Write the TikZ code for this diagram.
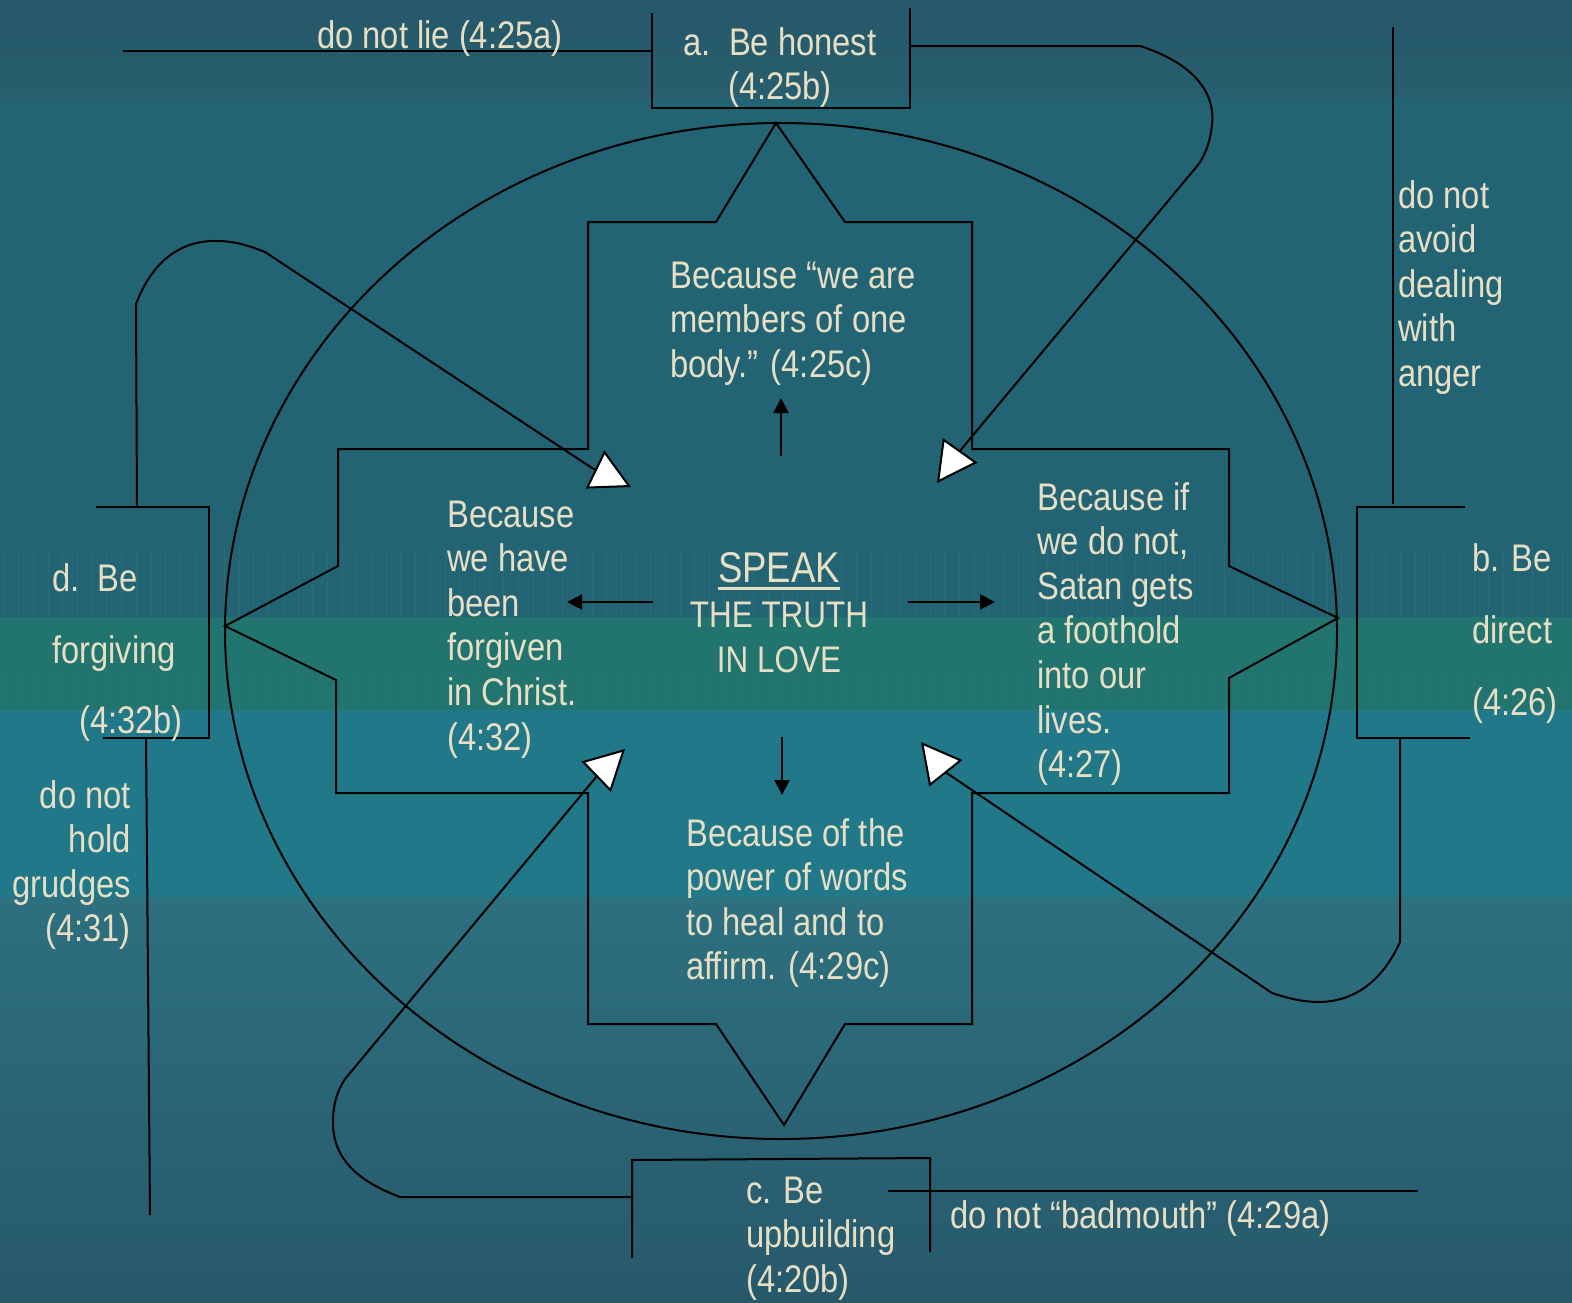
\documentclass[tikz,border=0pt]{standalone}
\usepackage{fontspec}
\setmainfont{Liberation Sans}[FakeStretch=0.85]
\usetikzlibrary{arrows.meta}
\definecolor{txt}{HTML}{E6DFC5}
\definecolor{bgtopA}{HTML}{25586A}
\definecolor{bgtopB}{HTML}{285E6E}
\definecolor{bgmain}{HTML}{236474}
\definecolor{bggreen}{HTML}{22756F}
\definecolor{bgblue}{HTML}{217888}
\definecolor{bgbotA}{HTML}{2D707F}
\definecolor{bgbotB}{HTML}{27596B}
\definecolor{stripecol}{HTML}{2A7A78}
\newcommand\Lblock[1]{\vtop{\halign{##\hfil\cr#1\crcr}}}
\newcommand\Rblock[1]{\vtop{\halign{\hfil##\cr#1\crcr}}}
\newcommand\Cblock[1]{\vtop{\halign{\hfil##\hfil\cr#1\crcr}}}
\begin{document}
\begin{tikzpicture}[x=1pt,y=-1pt,
  ln/.style={draw=black,line width=2pt},
  lbl/.style={text=txt,inner sep=0pt,font=\fontsize{38.5}{44.6}\selectfont},
  ctr/.style={text=txt,inner sep=0pt,font=\fontsize{37}{44.6}\selectfont},
  bigtip/.style={-{Triangle[length=40pt,width=42pt,fill=white]}},
  smalltip/.style={-{Triangle[length=15pt,width=15pt]}},
  stripe/.style={draw=stripecol,line width=1pt,opacity=0.45}]
\useasboundingbox (0,0) rectangle (1572,1302);
% background bands
\shade[top color=bgtopA,bottom color=bgtopB] (0,0) rectangle (1572,98);
\fill[bgmain] (0,98) rectangle (1572,617);
\fill[bggreen] (0,617) rectangle (1572,710);
\fill[bgblue] (0,710) rectangle (1572,897);
\shade[top color=bgbotA,bottom color=bgbotB] (0,897) rectangle (1572,1302);
\foreach \i in {0,...,107}{
  \draw[stripe] (\i*14.7+4,547) -- (\i*14.7+4,617);
  \draw[stripe] (\i*14.7+4,667) -- (\i*14.7+4,710);
}
% circle and star
\draw[ln] (781,631) ellipse [x radius=556pt, y radius=508pt];
\draw[ln] (776,123) -- (716,222) -- (588,222) -- (588,449) -- (338,449) -- (338,566)
  -- (225,626) -- (336,680) -- (336,793) -- (588,793) -- (588,1024) -- (716,1024)
  -- (784,1125) -- (845,1024) -- (972,1024) -- (972,793) -- (1229,793) -- (1229,678)
  -- (1338,618) -- (1229,566) -- (1229,449) -- (972,449) -- (972,222) -- (845,222) -- cycle;
% coordinates
\coordinate (aLeft) at (652,51);
\coordinate (lieEnd) at (123,51);
\coordinate (aRight) at (910,46);
\coordinate (angerTop) at (1393,27);
\coordinate (bTop) at (1393,504);
\coordinate (bBot) at (1400,738);
\coordinate (dTop) at (137,508);
\coordinate (dBot) at (146,738);
\coordinate (grudgeEnd) at (150,1215);
\coordinate (cLeft) at (632,1197);
\coordinate (badStart) at (888,1191);
\coordinate (badEnd) at (1418,1191);
\coordinate (tipTR) at (937,483);
\coordinate (baseTR) at (959,452);
\coordinate (tipTL) at (631,487);
\coordinate (baseTL) at (592,468);
\coordinate (tipBL) at (625,749);
\coordinate (baseBL) at (597,776);
\coordinate (tipBR) at (921,742);
\coordinate (baseBR) at (944.5,771.5);
% bracket boxes
\draw[ln] (652,13) -- (652,108) -- (910,108) -- (910,8);
\draw[ln] (1465,507) -- (1357,507) -- (1357,738) -- (1470,738);
\draw[ln] (96,507) -- (209,507) -- (209,738) -- (103,738);
\draw[ln] (632,1258) -- (632,1160) -- (930,1158) -- (930,1252);
% side lines
\draw[ln] (lieEnd) -- (aLeft);
\draw[ln] (angerTop) -- (bTop);
\draw[ln] (dBot) -- (grudgeEnd);
\draw[ln] (badStart) -- (badEnd);
% connectors with big arrows
\draw[ln,bigtip] (aRight) -- (1140,46) .. controls (1190,62) and (1216,90) .. (1212,125)
  .. controls (1210,143) and (1205,155) .. (1198,165) -- (baseTR) -- (tipTR);
\draw[ln,bigtip] (dTop) -- (136,304) .. controls (152,262) and (180,240) .. (217,241)
  .. controls (235,241) and (250,246) .. (265,252) -- (baseTL) -- (tipTL);
\draw[ln,bigtip] (cLeft) -- (400,1197) .. controls (360,1182) and (333,1160) .. (333,1123)
  .. controls (333,1102) and (338,1090) .. (345,1079) -- (baseBL) -- (tipBL);
\draw[ln,bigtip] (bBot) -- (1400,942) .. controls (1385,975) and (1360,1001) .. (1320,1002)
  .. controls (1302,1002) and (1287,998) .. (1272,993) -- (baseBR) -- (tipBR);
% center arrows
\coordinate (upS) at (781,456); \coordinate (upE) at (781,398);
\coordinate (lfS) at (653,602); \coordinate (lfE) at (567,602);
\coordinate (rtS) at (908,602); \coordinate (rtE) at (995,602);
\coordinate (dnS) at (782,737); \coordinate (dnE) at (782,795);
\draw[ln,smalltip] (upS) -- (upE);
\draw[ln,smalltip] (lfS) -- (lfE);
\draw[ln,smalltip] (rtS) -- (rtE);
\draw[ln,smalltip] (dnS) -- (dnE);
% texts
\node[lbl,anchor=base west] (lie) at (317,48) {do not lie (4:25a)};
\node[lbl,anchor=base] (boxa) at (780,55) {\Cblock{a.\ \ Be honest\cr(4:25b)}};
\node[lbl,anchor=base west] (body) at (670,288) {\Lblock{Because “we are\cr members of one\cr body.” (4:25c)}};
\node[ctr,font=\fontsize{43}{50}\selectfont,anchor=base] (speak) at (779,582) {SPEAK};
\draw[txt,line width=3pt] ([yshift=-6pt]speak.base west) -- ([yshift=-6pt]speak.base east);
\node[ctr,anchor=base] (truth) at (779,627) {THE TRUTH};
\node[ctr,anchor=base] (love) at (779,672) {IN LOVE};
\node[lbl,anchor=base west] (forgiven) at (447,527) {\Lblock{Because\cr we have\cr been\cr forgiven\cr in Christ.\cr (4:32)}};
\node[lbl,anchor=base west] (satan) at (1037,510) {\Lblock{Because if\cr we do not,\cr Satan gets\cr a foothold\cr into our\cr lives.\cr (4:27)}};
\node[lbl,anchor=base west] (words) at (686,846) {\Lblock{Because of the\cr power of words\cr to heal and to\cr affirm. (4:29c)}};
\node[lbl,anchor=base west] (anger) at (1398,208) {\Lblock{do not\cr avoid\cr dealing\cr with\cr anger}};
\node[lbl,anchor=base east] (grudges) at (131,808) {\Rblock{do not\cr hold\cr grudges\cr (4:31)}};
\node[lbl,anchor=base west] (d1) at (52,591) {d.\ \ Be};
\node[lbl,anchor=base west] (d2) at (52,663) {forgiving};
\node[lbl,anchor=base west] (d3) at (79,733) {(4:32b)};
\node[lbl,anchor=base west] (b1) at (1472,571) {b. Be};
\node[lbl,anchor=base west] (b2) at (1472,643) {direct};
\node[lbl,anchor=base west] (b3) at (1472,715) {(4:26)};
\node[lbl,anchor=base west] (cbox) at (746,1203) {\Lblock{c. Be\cr upbuilding\cr (4:20b)}};
\node[lbl,anchor=base west] (bad) at (950,1228) {do not “badmouth” (4:29a)};
\end{tikzpicture}
\end{document}
